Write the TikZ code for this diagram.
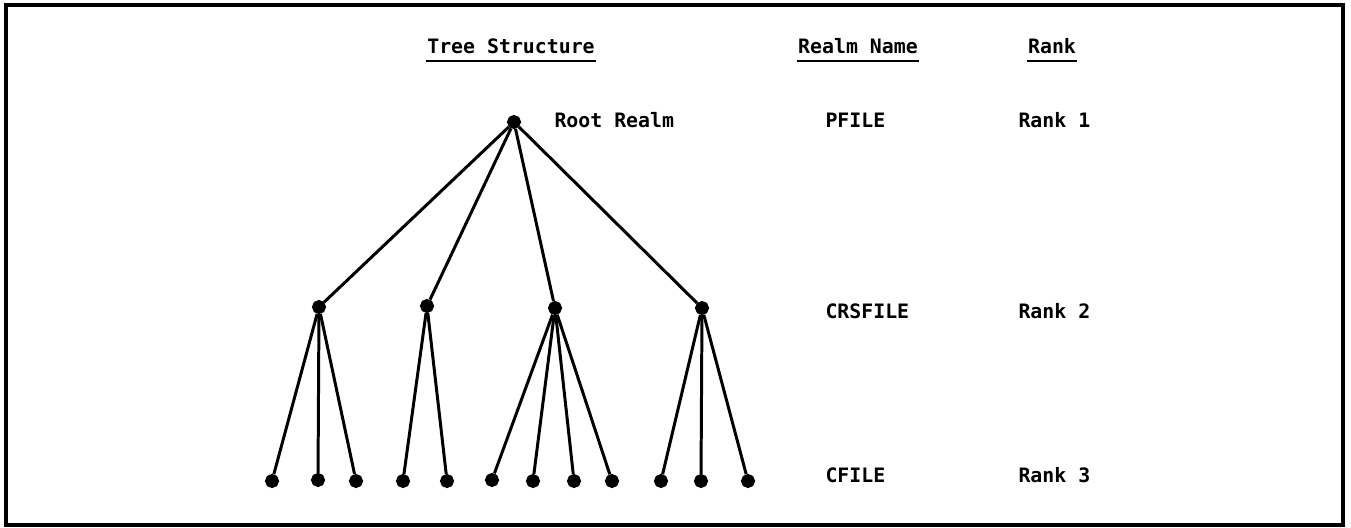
\documentclass[tikz,border=0pt]{standalone}
\usepackage{fontspec}
\setmonofont{DejaVu Sans Mono}
\usepackage{tikz}

\begin{document}
\begin{tikzpicture}[x=0.02cm, y=-0.02cm, line width=1.7pt,
    realm/.style={draw, circle, fill=black, inner sep=0pt, minimum size=0.22cm},
    label/.style={anchor=base west, inner sep=0pt, font=\ttfamily\bfseries\fontsize{11.3}{13}\selectfont},
    head/.style={label, anchor=base},
    rule/.style={line width=1.4pt}]

    \useasboundingbox (0,0) rectangle (1351,527);
    \draw[line width=2pt] (6,5) rectangle (1343,525);

    % column headings
    \node[head] (tree) at (511,54) {Tree Structure};
    \node[head] (name) at (858,54) {Realm Name};
    \node[head] (rank) at (1052,54) {Rank};
    \draw[rule] ([yshift=-0.14cm]tree.base west) -- ([yshift=-0.14cm]tree.base east);
    \draw[rule] ([yshift=-0.14cm]name.base west) -- ([yshift=-0.14cm]name.base east);
    \draw[rule] ([yshift=-0.14cm]rank.base west) -- ([yshift=-0.14cm]rank.base east);

    % rank 1
    \node[realm] (root) at (514,122) {};
    \node[label] (rootlbl) at (553,128) {Root Realm};
    \node[label] (pfile) at (824,128) {PFILE};
    \node[label] (rank1) at (1017,128) {Rank 1};

    % rank 2
    \node[realm] (c1) at (319,307) {};
    \node[realm] (c2) at (427,306) {};
    \node[realm] (c3) at (555,308) {};
    \node[realm] (c4) at (702,308) {};
    \node[label] (crsfile) at (824,318) {CRSFILE};
    \node[label] (rank2) at (1017,318) {Rank 2};

    % rank 3
    \node[realm] (l1) at (272,481) {};
    \node[realm] (l2) at (318,480) {};
    \node[realm] (l3) at (356,481) {};
    \node[realm] (l4) at (403,481) {};
    \node[realm] (l5) at (447,481) {};
    \node[realm] (l6) at (492,480) {};
    \node[realm] (l7) at (533,481) {};
    \node[realm] (l8) at (574,481) {};
    \node[realm] (l9) at (612,481) {};
    \node[realm] (l10) at (661,481) {};
    \node[realm] (l11) at (701,481) {};
    \node[realm] (l12) at (748,481) {};
    \node[label] (cfile) at (824,482) {CFILE};
    \node[label] (rank3) at (1017,482) {Rank 3};

    \draw (root) -- (c1);
    \draw (root) -- (c2);
    \draw (root) -- (c3);
    \draw (root) -- (c4);

    \draw (c1) -- (l1);
    \draw (c1) -- (l2);
    \draw (c1) -- (l3);
    \draw (c2) -- (l4);
    \draw (c2) -- (l5);
    \draw (c3) -- (l6);
    \draw (c3) -- (l7);
    \draw (c3) -- (l8);
    \draw (c3) -- (l9);
    \draw (c4) -- (l10);
    \draw (c4) -- (l11);
    \draw (c4) -- (l12);
\end{tikzpicture}
\end{document}
